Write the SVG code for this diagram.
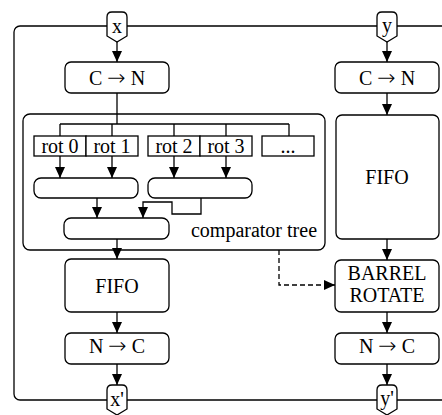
<svg xmlns="http://www.w3.org/2000/svg" width="442" height="415" viewBox="0 0 442 415" font-family="'Liberation Serif', 'DejaVu Serif', serif">
<style>
.b{fill:#fff;stroke:#000;stroke-width:1.3}
.l{fill:none;stroke:#000;stroke-width:1.3}
.d{fill:none;stroke:#000;stroke-width:1.3;stroke-dasharray:5,3}
.t{font-family:'Liberation Serif', 'DejaVu Serif', serif;font-size:20px;fill:#000;text-anchor:middle}
.ar{font-family:'DejaVu Sans', sans-serif;font-size:22px;font-weight:200}
</style>
<defs>
<marker id="ah" markerUnits="userSpaceOnUse" markerWidth="11" markerHeight="10" refX="11" refY="5" orient="auto">
<path d="M0,0 L11,5 L0,10 z" fill="#000"/>
</marker>
</defs>
<rect width="442" height="415" fill="#fff"/>
<g id="frame"><rect class="b" x="14" y="26" width="440" height="374" rx="6"/></g>
<g id="comparator-tree">
<rect class="b" x="23" y="114" width="302" height="136" rx="7"/>
<text class="t" x="254" y="237">comparator tree</text>
</g>
<g id="connectors">
<line class="l" x1="117" y1="42" x2="117" y2="62" marker-end="url(#ah)"/>
<line class="l" x1="117" y1="93" x2="117" y2="124"/>
<line class="l" x1="60" y1="124" x2="289" y2="124"/>
<line class="l" x1="60" y1="124" x2="60" y2="136"/>
<line class="l" x1="112" y1="124" x2="112" y2="136"/>
<line class="l" x1="174" y1="124" x2="174" y2="136"/>
<line class="l" x1="226" y1="124" x2="226" y2="136"/>
<line class="l" x1="289" y1="124" x2="289" y2="136"/>
<line class="l" x1="60" y1="156" x2="60" y2="178" marker-end="url(#ah)"/>
<line class="l" x1="112" y1="156" x2="112" y2="178" marker-end="url(#ah)"/>
<line class="l" x1="174" y1="156" x2="174" y2="178" marker-end="url(#ah)"/>
<line class="l" x1="226" y1="156" x2="226" y2="178" marker-end="url(#ah)"/>
<line class="l" x1="97" y1="198" x2="97" y2="218" marker-end="url(#ah)"/>
<path class="l" d="M201,198 V214 H172 V202 H143 V218" marker-end="url(#ah)"/>
<line class="l" x1="117" y1="239" x2="117" y2="259" marker-end="url(#ah)"/>
<line class="l" x1="117" y1="312" x2="117" y2="333" marker-end="url(#ah)"/>
<line class="l" x1="117" y1="364" x2="117" y2="385" marker-end="url(#ah)"/>
<line class="l" x1="387" y1="42" x2="387" y2="62" marker-end="url(#ah)"/>
<line class="l" x1="387" y1="93" x2="387" y2="115" marker-end="url(#ah)"/>
<line class="l" x1="387" y1="239" x2="387" y2="260" marker-end="url(#ah)"/>
<line class="l" x1="387" y1="312" x2="387" y2="333" marker-end="url(#ah)"/>
<line class="l" x1="387" y1="364" x2="387" y2="385" marker-end="url(#ah)"/>
<path class="d" d="M279,250 V285 H335" marker-end="url(#ah)"/>
</g>
<g id="port-x"><path class="b" d="M107,36 V17 Q107,12 112,12 H122 Q127,12 127,17 V36 L117,42 Z"/><text class="t" x="117" y="33">x</text></g>
<g id="port-y"><path class="b" d="M377,36 V17 Q377,12 382,12 H392 Q397,12 397,17 V36 L387,42 Z"/><text class="t" x="387" y="32">y</text></g>
<g id="port-x2"><path class="b" d="M107,409 V390 Q107,385 112,385 H122 Q127,385 127,390 V409 L117,415 Z"/><text class="t" x="117" y="406">x'</text></g>
<g id="port-y2"><path class="b" d="M377,409 V390 Q377,385 382,385 H392 Q397,385 397,390 V409 L387,415 Z"/><text class="t" x="387" y="405">y'</text></g>
<g id="cn-left"><rect class="b" x="65" y="62" width="104" height="31" rx="6"/><text class="t" x="117" y="85">C <tspan class="ar">→</tspan> N</text></g>
<g id="cn-right"><rect class="b" x="335" y="62" width="104" height="31" rx="6"/><text class="t" x="387" y="85">C <tspan class="ar">→</tspan> N</text></g>
<g id="rot0"><rect class="b" x="34" y="136" width="52" height="20"/><text class="t" x="60" y="153">rot 0</text></g>
<g id="rot1"><rect class="b" x="86" y="136" width="52" height="20"/><text class="t" x="112" y="153">rot 1</text></g>
<g id="rot2"><rect class="b" x="148" y="136" width="52" height="20"/><text class="t" x="174" y="153">rot 2</text></g>
<g id="rot3"><rect class="b" x="200" y="136" width="52" height="20"/><text class="t" x="226" y="153">rot 3</text></g>
<g id="rot-more"><rect class="b" x="262" y="136" width="52" height="20"/><text class="t" x="288" y="153">...</text></g>
<g id="cmp1"><rect class="b" x="34" y="178" width="104" height="20" rx="7"/></g>
<g id="cmp2"><rect class="b" x="148" y="178" width="104" height="20" rx="7"/></g>
<g id="cmp3"><rect class="b" x="64" y="218" width="105" height="21" rx="7"/></g>
<g id="fifo-left"><rect class="b" x="65" y="259" width="104" height="53" rx="6"/><text class="t" x="117" y="293">FIFO</text></g>
<g id="fifo-right"><rect class="b" x="336" y="115" width="103" height="124" rx="6"/><text class="t" x="387" y="184">FIFO</text></g>
<g id="barrel"><rect class="b" x="335" y="260" width="104" height="52" rx="6"/><text class="t" x="387" y="280">BARREL</text><text class="t" x="387" y="302">ROTATE</text></g>
<g id="nc-left"><rect class="b" x="65" y="333" width="104" height="31" rx="6"/><text class="t" x="117" y="353">N <tspan class="ar">→</tspan> C</text></g>
<g id="nc-right"><rect class="b" x="335" y="333" width="104" height="31" rx="6"/><text class="t" x="387" y="353">N <tspan class="ar">→</tspan> C</text></g>
</svg>
